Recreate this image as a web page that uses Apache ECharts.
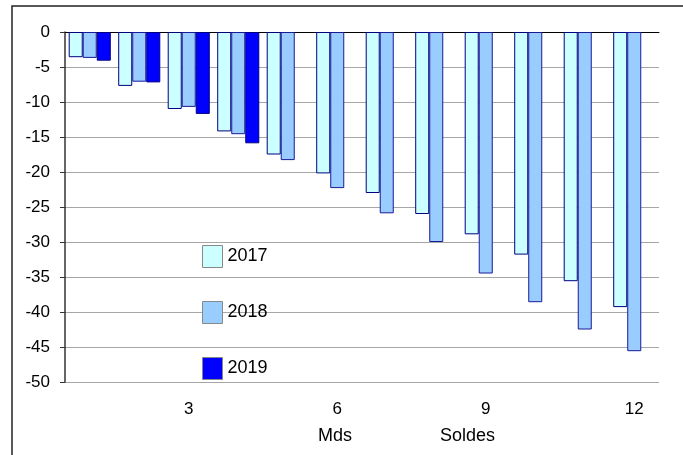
<!DOCTYPE html>
<html><head><meta charset="utf-8">
<script src="https://cdn.jsdelivr.net/npm/echarts@6/dist/echarts.min.js"></script>
<style>html,body{margin:0;padding:0;background:#fff}#c{width:683px;height:455px}</style>
</head><body><div id="c"></div>
<script>
var categories = ['1','2','3','4','5','6','7','8','9','10','11','12'];
var s2017 = [-3.6,-7.7,-11.0,-14.2,-17.5,-20.2,-23.0,-26.0,-28.9,-31.8,-35.6,-39.3];
var s2018 = [-3.7,-7.1,-10.7,-14.6,-18.3,-22.3,-25.9,-30.0,-34.5,-38.6,-42.5,-45.6];
var s2019 = [-4.1,-7.2,-11.7,-15.9,null,null,null,null,null,null,null,null];
var yTicks = [0,-5,-10,-15,-20,-25,-30,-35,-40,-45,-50];

var chart = echarts.init(document.getElementById('c'));
var font = 'Liberation Sans, Arial, sans-serif';
function bar(name, data, color, border) {
  return {name:name, type:'bar', data:data, barGap:'0%', barCategoryGap:'15%',
    itemStyle:{color:color, borderColor:border, borderWidth:1}};
}
chart.setOption({
  animation:false,
  textStyle:{fontFamily:font},
  grid:{left:65, right:24, top:32, bottom:73},
  legend:{orient:'vertical', left:197, top:240, itemGap:33, itemWidth:20, itemHeight:22,
    icon:'rect', textStyle:{fontSize:18, color:'#000', fontFamily:font},
    itemStyle:{borderColor:'#888', borderWidth:1},
    data:['2017','2018','2019']},
  xAxis:[{type:'category', data:categories, position:'bottom',
    axisLine:{show:false}, axisTick:{show:false},
    axisLabel:{interval:function(i){return i%3===2;}, fontSize:17, color:'#000', margin:19, fontFamily:font}},
   {type:'category', data:categories, position:'top',
    axisLine:{show:true, onZero:false, lineStyle:{color:'#000', width:1}}, axisTick:{show:false}, axisLabel:{show:false}}],
  yAxis:{type:'value', min:yTicks[yTicks.length-1], max:yTicks[0], interval:5,
    axisLine:{show:true, lineStyle:{color:'#333', width:1.5}},
    axisTick:{show:true, length:5, lineStyle:{color:'#333'}},
    axisLabel:{fontSize:17, color:'#000', margin:15, fontFamily:font},
    splitLine:{lineStyle:{color:'#a6a6a6', width:1}}},
  series:[bar('2017', s2017, '#CCFFFF', '#000080'),
          bar('2018', s2018, '#99CCFF', '#1a1a99'),
          bar('2019', s2019, '#0000FF', '#000080')],
  graphic:[
    {type:'rect', shape:{x:12, y:6, width:720, height:500}, style:{fill:null, stroke:'#222', lineWidth:1.5}, silent:true},
    {type:'text', left:318, top:427, style:{text:'Mds', font:'18px '+font, fill:'#000'}},
    {type:'text', left:440, top:427, style:{text:'Soldes', font:'18px '+font, fill:'#000'}}
  ]
});
</script></body></html>
